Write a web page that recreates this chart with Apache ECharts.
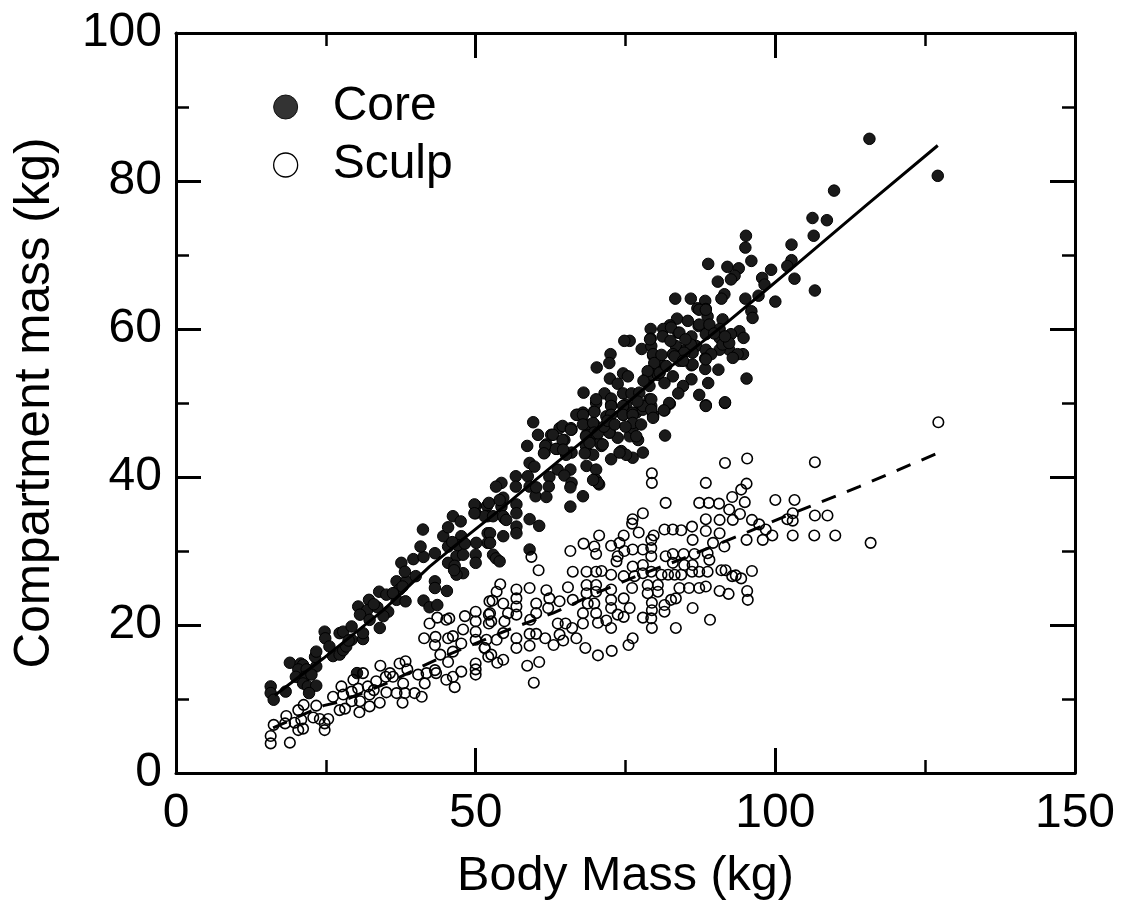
<!DOCTYPE html>
<html><head><meta charset="utf-8">
<script src="https://cdn.jsdelivr.net/npm/echarts@6/dist/echarts.min.js"></script>
<style>html,body{margin:0;padding:0;background:#fff}#c{width:1123px;height:903px}</style></head>
<body><div id="c"></div>
<script>
const xLabelFont = 'Liberation Sans';
const coreName = 'Core';
const sculpName = 'Sculp';
const xTitle = 'Body Mass (kg)';
const yTitle = 'Compartment mass (kg)';
const corePoints = [
[15.8,11.7],[15.8,10.8],[16.3,9.9],[18.3,11],[19,14.9],[20.8,14.8],[21.2,14.6],[20.4,14],[21.8,14],[20,13],[21.5,13],[21.2,12.1],[22,11.7],[23.4,11.8],[22.2,10.8],[23.4,14.4],[23.2,15.7],[23.4,16.4],[24.8,19.1],[24.9,18.2],[27.3,18.9],[27.9,19.1],[26.2,15.8],[27.3,16],[27.9,16.6],[29.3,19.8],[29.3,18],[28.4,17.1],[31.2,18.1],[31.2,18.9],[30.4,22.5],[32.2,23.4],[31.9,22],[33.6,22.4],[30.7,21.4],[32.3,20.7],[34,19.6],[33.9,24.5],[35.1,24.1],[35.4,21.8],[36.8,25.9],[38.4,25.9],[37.3,24.8],[36.8,23.4],[38.3,23.2],[37.6,28.4],[38.2,27.2],[40,26.6],[39.6,28.9],[41.3,29.2],[40.8,30.6],[41.2,32.9],[43.2,29.7],[43.2,25.9],[43.2,25],[45.2,24.6],[41.3,23.3],[42.3,22.4],[43.6,22.7],[44.6,32],[45.4,33.2],[46.2,34.7],[47.5,34],[45.4,30.6],[47.6,32],[46.8,29.3],[45.4,28.4],[46.5,28],[47.9,27],[46.8,26.8],[47.9,29.5],[50,36.1],[50,35.1],[51.9,36.1],[52,34.7],[52,32.4],[52,31.1],[50.1,31.1],[50,29.5],[50,28.4],[30.2,13.5],
[59.6,47.4],[60.4,45.7],[58.6,44.2],[61.5,43.3],[61.8,44.4],[63.6,43.8],[62.6,45.7],[64,46.6],[64.8,45],[66,46.4],[67,48.4],[67.9,48.7],[69.8,48.9],[70.1,50],[68.5,47.1],[69.8,47.1],[68.5,45.7],[69.8,45.3],[71,44.2],[68.5,43.3],[69.6,43],[66,43.3],[68.5,41.5],[70.1,41],[70.1,39.6],[70.6,39],[65.8,41],[63.7,41],[64.8,40.2],[66,39.2],[65.8,38.6],[62.3,40],[62.2,38.7],[60,37.4],[61.8,37.3],[67.9,37.4],[65.8,36],[59,41.9],[59.8,41.4],[56.7,40.1],[56.7,38.7],[58.7,40.1],[59,38.7],[60.1,38.6],[54.3,39.2],[53.4,38.7],[54.6,37.2],[52.2,36.5],[54.3,36],[56.8,36.3],[56.8,35.1],[56.8,33.3],[56.8,32.4],[51.5,34.7],[52.9,34.7],[54.8,34.4],[59,34.3],[60.6,33.4],[52.4,32.4],[54.6,32],[52.4,31.1],[59,30.2],[52.9,29.5],[53.4,29],[54,28.6],
[72.4,46],[73.7,45.3],[75.7,45.5],[77.1,45],[81.6,45.6],[74.3,43.5],[76.2,42.6],[77.9,43.3],[72.6,42.4],[71.8,48.2],[72.6,49.8],[75.1,49.8],[76.8,48.7],[79,49.8],[79.6,48.2],[81.5,49],[82.4,49.9],[88.4,49.7],[91.6,50],[76.2,46.6],[74.6,48.4],
[115.7,85.7],[127.1,80.7],[109.8,78.7],[106.2,75],[108.6,74.7],[106.4,72.6],[102.7,71.4],[102.7,69.3],[102,68.5],[103.2,66.8],[106.6,65.2],[99.3,68],[97.8,66.9],[98.2,66],[97.2,64.5],[100,63.7],[96,69.2],[95.1,72.6],[95,71],[92,68.4],[93.9,68.2],[93.2,67.2],[92.6,66.7],[88.8,68.8],[90.4,66.4],[91.5,64.7],[91,64.1],[95,64.1],[96,62.4],[83.3,64.1],[85.9,64.1],[88.3,63.8],[87,62.8],[88.4,62.7],[88.7,61.7],[91.2,61.3],[83.6,61.4],[85.4,61.1],[82.4,60.5],[81.3,60],[79.2,60],[81.2,59],[83.8,59.5],[87.2,60.4],[88.7,60.2],[90.7,60],[86,59],[88.4,59.3],[94,59.7],[92.6,59.3],[94.7,58.8],[90.7,58.8],[75.7,58.4],[74.8,58.4],[79.2,58.7],[77.7,57.3],[79.3,57.7],[83.4,57.7],[85.1,57.2],[86.8,57.7],[88.4,57.2],[92.3,57.2],[90.7,57.2],[82.9,56.6],[84.6,56.6],[86.2,56.8],[89.3,56.6],[94.6,56.6],[93.7,56.6],[92.9,56.1],[88.3,56],[79.6,56.4],[72.5,56.6],[72.3,55.4],[70.2,54.8],[84,55.7],[86,55.1],[81.2,55],[79.8,54.8],[88.3,54.6],[90.5,54.5],[74.6,54],[75.4,53.6],[78.7,53.6],[80.4,53.8],[82.9,53.6],[72.4,53.3],[73.7,52.6],[79,52.3],[81.5,52.7],[86,53.2],[88.8,52.7],[95.2,53.3],[84.6,52.3],[83.8,51.3],[68,51.4],[71.5,51.3],[74.6,51.3],[76,51.3],[77.3,51.4],[87.3,51.1],[70.1,50.5],[72.6,50.6],[79,50.5],[82.3,50],[91.6,50.1],[88.4,49.6],[81.4,49],[66.8,48.4],[67.9,48.4],[69.8,48.8],[72.6,49.6],[72.6,48.4],[74.6,49.6],[74.6,48.4],[76.2,48.7],[77.9,49.1],[79.3,49.6],[79.6,48.4],
[61.6,44.2],[61.4,43.2],[63.4,43.8],[62.9,45.7],[64.5,46.9],[64.5,45],[65.9,46.6],[49.8,36.3],[49.8,35.1],[54,36.9],[54.6,34.7],[55.1,34.2],[79.1,58.6],[79.6,56.6],[79.8,55.4],[78.7,54.3],[80.7,54.1],[81.8,55],[82.6,60.2],[84,59.5],[85.9,57.9],[84.8,56.8],[83.2,56.3],[86.2,55.2],[84.6,55.7],[88.4,55.9],[91.2,57.9],[92.3,58.1],[87.3,60.6],[89,60.6],[87.3,62.6],[88.4,62.6],[76.2,48.4],[77.9,49.6],[79.3,50.5],[79.3,49.1],[79.6,48],[77,50.2],[76.2,47.3],[77.6,47.1],[76.8,45.5],[72.3,46],[75.1,43],[74,43.3],[70.4,39.2],[69.6,39.6],[68.4,44.2],[70.7,44.6],[65.9,46.4],[67.9,47.1],[69.6,47.3],[69.8,46],[71.2,44.4],[68.4,45.5],[65.1,43],[68.2,43.2],[64.6,43.7],
[25.6,17.1],[28.8,17.9],[22.6,13.3],[33,22.8],[34.6,21.2],[37.8,25.2],[36.2,24.3],[47,30.8],[48.2,31],[46.1,31.2],[46.4,27.4],[70.4,45.9],[71.4,46.8],[69,44.6],[72,47.6],[73.2,47.1],[75,46.8],[78,53],[81,56.5],[82.5,58.4],[85,58.6],[89.8,59.4],[91.6,59],[96.2,61.5]
];
const sculpPoints = [
[15.8,5],[15.8,4],[19,4.1],[16.3,6.5],[18.4,7.7],[18.2,6.7],[19.8,6.8],[20.4,8.5],[21.3,9.2],[23.4,9.1],[20.4,5.8],[21.2,6],[20.9,7.2],[22.9,7.5],[24,7.3],[25.4,7.3],[24.8,5.8],[24.8,6.7],[26.2,10.3],[27.3,8.5],[28.2,8.7],[27.6,11.7],[27.9,10.6],[29.3,11],[29.3,9.7],[30.6,8.2],[30.7,9.7],[32.3,9],[34,9.5],[31.2,13.5],[32,11.7],[32.3,10.6],[33.4,12.4],[35.1,10.9],[34.1,14.5],[35.7,13.5],[36.8,10.8],[38.2,10.8],[37.8,9.5],[37.3,14.8],[38.3,15.1],[37.9,12.1],[36.2,13],[39.8,10.8],[41,10.3],[41.5,12.1],[40.4,13.3],[41.8,13.5],[43.2,13.9],[43.4,13.5],[45.1,12.6],[46.5,11.6],[46.2,13],[47.6,13.7],[50,14.8],[50,14],[50,13.3],[45.4,15],[44.1,16],[46.2,16.4],[43.2,17.3],[41.4,18.2],[43.3,18.4],[42.3,20.2],[43.6,21],[45.1,20.7],[45.6,20.9],[48.2,21.2],[50,21.8],[50,20.5],[47.9,19.4],[46.2,18.5],[45.4,18.2],[47.6,17.5],[50,19.1],[50,18],[51.5,16.9],[52.1,15.7],[52.3,23.2],[52.2,21.4],[52.2,20.2],[29.6,12.6],[33,11.2],[35,13],[38.6,14],[30.4,11.4],
[91.6,41.9],[95.3,42.5],[88.4,39.2],[95.2,39.1],[94.3,38.3],[92.8,37.3],[94.9,36.6],[87.3,36.5],[88.9,36.5],[90.6,36.4],[92.3,35.6],[94.1,35],[81.7,36.5],[79.4,40.5],[79.4,39.2],[77.9,35.1],[76.2,34.3],[76.1,33.7],[81.5,32.9],[82.9,32.9],[84.3,32.8],[86.1,33.3],[88.4,34.3],[90.7,34.2],[92.9,34.2],[96.1,34.2],[97.3,33.6],[95.2,31.5],[70.6,32.1],[68,31],[65.8,30],[69.8,30.6],[70.1,29.6],[72.6,30.7],[74.7,32.1],[77.2,32.5],[74,31.1],[79.7,32.1],[79.3,31.5],[79.3,30.4],[79.3,29.3],[86.2,31.5],[59.3,29.2],[60.5,27.4],[54.1,25.5],[53.5,24.5],[52.8,23.3],[54.6,22.9],[56.8,24.8],[56.8,23.6],[56.8,22.5],[56.8,21.4],[52.4,21.6],[52.6,20.5],[55.4,21.6],[59,25],[61.8,24.7],[62.3,23.6],[60.1,22.9],[60.1,21.6],[62.1,22.3],[59.1,20.7],[64,23.2],[65.4,25.1],[66.2,23.4],[68.5,27.2],[70.1,27.2],[71,27.3],[72.6,26.8],[74.7,26.6],[66.2,27.2],[68.5,25.4],[70.1,25.4],[68.5,24.3],[70.1,24.5],[72.6,24.8],[72.6,23.4],[72.6,22.3],[74.7,23.6],[76.1,25],[75.7,22.3],[78.7,25.4],[80.4,25.4],[78.7,24.3],[80.4,24.5],[79.4,23],[79.4,22],[79.3,20.9],[79.4,19.6],[77.9,21],[74.7,21.1],[73.7,21.4],[81.5,22.7],[81.5,21.8],[83.4,23.6],[82.6,23.4],[84,25],[85.6,25],[87.3,25],[88.4,25.2],[86.2,22.3],[83.4,19.6],[89.1,20.7],[90.7,24.6],[92.2,24.2],[95.3,24.6],[95.4,23.4],[96.1,27.3],[94.3,26.3],[93.4,26.7],[92.8,26.6],[91.7,27.4],[91,27.4],[89,28.8],[88.7,27.2],[87.3,27.2],[86.1,27.2],[84.3,26.8],[83.2,26.8],[82.1,26.8],[81,26.8],[79.3,27.2],[77.9,27],[76.5,26.6],[76.2,27.9],[77.9,28.1],[73.7,29.3],[73.5,28.6],[74.8,30],[76.2,30.2],[77.9,30.2],[81.7,29.3],[82.9,29.6],[84.7,29.6],[86.5,29.6],[86.2,28.1],[84.8,28.1],[82.9,28.4],[88.7,29.7],[91.5,30.6],[89.6,31.1],[88.4,32.7],[90.7,32.4],
[63.7,20.2],[65,20.2],[66.1,19.6],[67.9,21.6],[69.8,22.9],[68.7,22.9],[70.1,21.6],[70.4,20.3],[71.8,20.6],[72.6,19.6],[67.9,20.2],[66.8,18.2],[64,18.7],[64.6,17.9],[63,17.3],[61.6,18.2],[59,18.8],[60.1,18.8],[56.8,18.2],[56.8,16.9],[59,17.2],[54.8,20.5],[54.6,18.9],[53.5,18],[51.5,16.9],[52.6,16],[54.6,15.3],[53.6,14.9],[58.6,14.5],[60.6,15],[59.7,12.2],[68.3,16.9],[70.4,15.9],[72.7,16.5],[75.5,17.3],[76.2,18.2],[51.8,18],
[127.2,47.4],[106.6,42],[100,36.9],[103.2,36.9],[102.9,35.1],[102.9,34.1],[102,34.3],[106.6,34.8],[108.7,34.8],[102.9,32.1],[106.5,32.1],[110,32.1],[115.9,31.1],[99.5,32.1],[98.4,32.9],[97.9,31.5]
];
const coreFit = [[16.5,10.5],[24.6,15.5],[34.6,22],[42.3,27.9],[47.9,31.6],[55,36.2],[60,39.6],[69,45.6],[80,53.3],[91.8,60.8],[97.9,64.9],[102.9,68.3],[115,76.6],[127.1,84.8]];
const sculpFit = [[16.2,6.1],[24.6,9.1],[27.3,9.6],[35.1,12.1],[43.4,15.3],[56.2,19.6],[62.9,21.6],[70.1,24.3],[76.8,26.6],[84,28.8],[94,32.1],[102.3,34.9],[114,38.7],[127.3,43.3]];

const font = xLabelFont;
const base = {
  min: 0, axisLine: {show: true, onZero: false, lineStyle: {color: '#000', width: 3}},
  axisTick: {show: true, inside: true, length: 25, lineStyle: {color: '#000', width: 3}},
  minorTick: {show: true, splitNumber: 2, length: 13, lineStyle: {color: '#000', width: 2.5}},
  splitLine: {show: false}, minorSplitLine: {show: false}
};
const chart = echarts.init(document.getElementById('c'), null, {renderer: 'canvas'});
chart.setOption({
  animation: false, backgroundColor: '#fff',
  grid: {left: 176, right: 48, top: 33, bottom: 130, containLabel: false, outerBoundsMode: 'none'},
  legend: {
    orient: 'vertical', left: 268, top: 78, itemWidth: 24, itemHeight: 24, itemGap: 10, icon: 'circle',
    textStyle: {fontFamily: font, fontSize: 48, color: '#000', padding: [0, 0, 0, 30]},
    data: [
      {name: coreName, itemStyle: {color: '#333', borderColor: '#111', borderWidth: 1}},
      {name: sculpName, itemStyle: {color: '#fff', borderColor: '#000', borderWidth: 1.3}}
    ]
  },
  xAxis: [
    Object.assign({}, base, {type: 'value', position: 'bottom', max: 150, interval: 50,
      name: xTitle, nameLocation: 'middle', nameGap: 79,
      nameTextStyle: {fontFamily: font, fontSize: 48.5, color: '#000'},
      axisLabel: {fontFamily: font, fontSize: 48, color: '#000', margin: 17, showMinLabel: true, showMaxLabel: true, hideOverlap: false}}),
    Object.assign({}, base, {type: 'value', position: 'top', max: 150, interval: 50, axisLabel: {show: false}})
  ],
  yAxis: [
    Object.assign({}, base, {type: 'value', position: 'left', max: 100, interval: 20,
      name: yTitle, nameLocation: 'middle', nameGap: 116, nameRotate: 90,
      nameTextStyle: {fontFamily: font, fontSize: 49.5, color: '#000'},
      axisLabel: {fontFamily: font, fontSize: 48, color: '#000', margin: 14, showMinLabel: true, showMaxLabel: true, hideOverlap: false}}),
    Object.assign({}, base, {type: 'value', position: 'right', max: 100, interval: 20, axisLabel: {show: false}})
  ],
  series: [
    {name: coreName, type: 'scatter', data: corePoints, symbol: 'circle', symbolSize: 11.5,
     itemStyle: {color: '#1a1a1a', borderColor: '#000', borderWidth: 1, opacity: 1}, z: 3},
    {name: sculpName, type: 'scatter', data: sculpPoints, symbol: 'circle', symbolSize: 10.5,
     itemStyle: {color: 'rgba(255,255,255,0)', borderColor: '#000', borderWidth: 1.6, opacity: 1}, z: 4},
    {name: 'Core fit', type: 'line', data: coreFit, showSymbol: false, symbol: 'none',
     lineStyle: {color: '#000', width: 3, type: 'solid'}, z: 5},
    {name: 'Sculp fit', type: 'line', data: sculpFit, showSymbol: false, symbol: 'none',
     lineStyle: {color: '#000', width: 3, type: [15, 12]}, z: 5}
  ]
});
</script></body></html>
